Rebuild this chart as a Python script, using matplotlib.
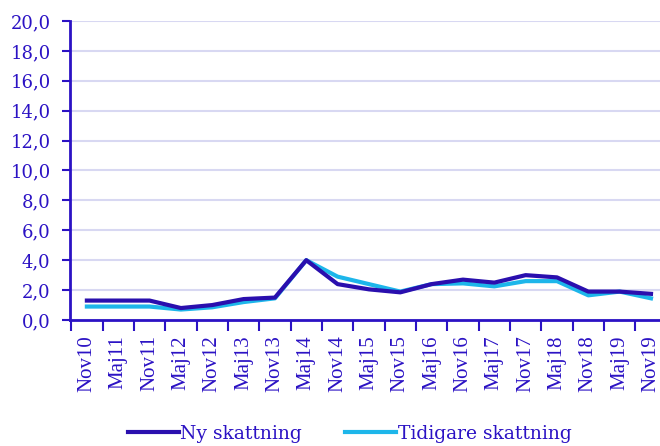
import matplotlib
matplotlib.use("Agg")
import matplotlib.pyplot as plt
import numpy as np

categories = ["Nov10", "Maj11", "Nov11", "Maj12", "Nov12", "Maj13", "Nov13", "Maj14",
              "Nov14", "Maj15", "Nov15", "Maj16", "Nov16", "Maj17", "Nov17", "Maj18",
              "Nov18", "Maj19", "Nov19"]
ny = [1.3, 1.3, 1.3, 0.8, 1.0, 1.4, 1.5, 4.0, 2.4, 2.05, 1.85, 2.4, 2.7, 2.5, 3.0, 2.85, 1.9, 1.9, 1.75]
tidigare = [0.9, 0.9, 0.9, 0.7, 0.85, 1.2, 1.45, 4.0, 2.9, 2.4, 1.9, 2.4, 2.45, 2.25, 2.6, 2.6, 1.65, 1.9, 1.45]
yticks = [0, 2, 4, 6, 8, 10, 12, 14, 16, 18, 20]

txt = "#2b12c4"
plt.rcParams['font.family'] = ['Liberation Serif', 'DejaVu Serif']

fig = plt.figure(figsize=(6.6, 4.46), dpi=100)
ax = fig.add_axes([0.106, 0.2825, 0.906, 0.6705])
x = np.arange(len(categories))
ax.plot(x, ny, color="#2a0fae", lw=3, label="Ny skattning", zorder=3)
ax.plot(x, tidigare, color="#1db6ea", lw=3, label="Tidigare skattning", zorder=2)

ax.set_ylim(0, 20)
ax.set_xlim(-0.54, len(categories) - 0.46)
ax.set_yticks(yticks)
ax.set_yticklabels([f"{v:.1f}".replace(".", ",") for v in yticks], fontsize=13,
                   color=txt, family=['DejaVu Serif'])
ax.set_xticks(x)
ax.set_xticklabels(categories, rotation=90, fontsize=15, color=txt)
ax.set_xticks(np.arange(-0.5, len(categories), 1.0), minor=True)
ax.tick_params(axis='x', which='major', length=0, pad=11)
ax.tick_params(axis='x', which='minor', length=8, width=1.5, color=txt, direction='out')
ax.tick_params(axis='y', length=6, width=1.5, color=txt, pad=8)
ax.grid(axis='y', color="#d8d8f2", lw=1.5)
ax.set_axisbelow(True)
for s in ['top', 'right']:
    ax.spines[s].set_visible(False)
for s in ['left', 'bottom']:
    ax.spines[s].set_color(txt)
    ax.spines[s].set_linewidth(2)

leg = fig.legend(loc='lower center', bbox_to_anchor=(0.53, -0.03), ncol=2, frameon=False,
                 prop={'family': ['DejaVu Serif'], 'size': 13.5},
                 handlelength=2.7, columnspacing=2.3, handletextpad=0.1)
for t in leg.get_texts():
    t.set_color(txt)

fig.savefig("out.png", dpi=100)
